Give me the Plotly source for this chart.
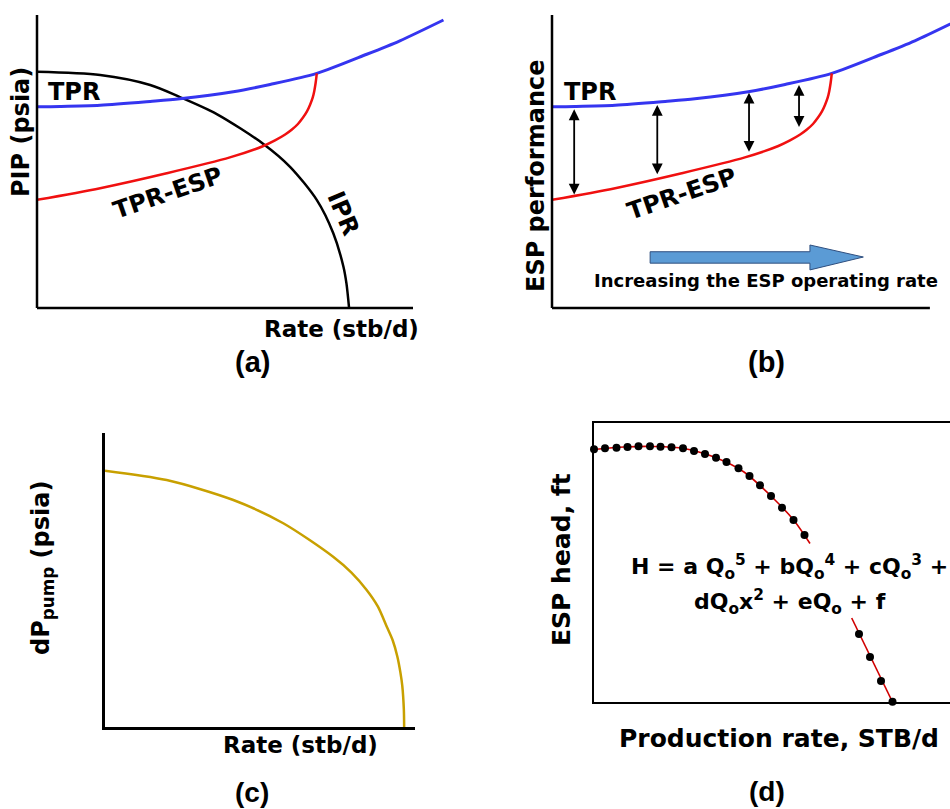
import plotly.graph_objects as go

# ---------------- data (schematic units) ----------------
# Panels (a) and (b): rate (0-100 along the drawn axis) vs pressure (0-100)
tpr_rate = [0, 6.1, 16.8, 30.1, 38, 52.2, 62, 74.4, 87.7, 96.5, 108.1]
tpr_pip = [68.7, 68.8, 69.2, 70.5, 71.4, 73.8, 76.3, 80.1, 86.6, 91.2, 98.3]
esp_rate = [0, 16.8, 34.5, 51.3, 60.2, 63.3, 66.0, 67.8, 69.4, 70.7, 71.8, 72.6,
            73.3, 73.75, 74.1, 74.3, 74.4]
esp_pip = [36.9, 40.9, 46.0, 51.4, 55.3, 57.2, 59.2, 60.9, 62.8, 64.9, 67.1, 69.3,
           71.7, 74.1, 76.8, 78.8, 80.1]
ipr_rate = [0, 16.8, 30.1, 38, 47.8, 60.2, 67.3, 74.4, 78.8, 81.5, 82.3, 83]
ipr_pip = [80.6, 79.5, 76.1, 72.0, 66.2, 56.0, 48.2, 36.9, 25.5, 14.1, 8.4, 0]
arrow_rate = [5.9, 28.0, 52.4, 65.7]
arrow_top = [67.8, 69.3, 73.5, 76.1]
arrow_bottom = [38.2, 45.1, 52.8, 61.3]

# Panel (c): pump differential pressure curve
pump_rate = [0, 19.9, 41.4, 57.5, 73.6, 79.5, 84.4, 88.0, 90.9, 92.8, 94.3, 95.3, 95.9, 96.4, 96.5]
pump_dp = [87.2, 84.0, 77.2, 69.3, 57.9, 52.5, 46.6, 41.0, 34.1, 29.5, 24.0, 18.5, 14.0, 6.0, 0]

# Panel (d): ESP head test points and polynomial fit
q_pts = [0, 110, 225, 335, 445, 560, 665, 775, 890, 1000, 1110, 1220, 1325,
         1445, 1555, 1660, 1770, 1880, 1995, 2105, 2650, 2760, 2870, 2985]
h_pts = [2527, 2537, 2543, 2550, 2557, 2557, 2553, 2547, 2537, 2510, 2480,
         2443, 2400, 2337, 2260, 2167, 2060, 1943, 1820, 1670, 680, 450, 210, 3]
fit1_q = [0, 300, 600, 900, 1200, 1500, 1800, 2000, 2160]
fit1_h = [2525, 2550, 2555, 2535, 2450, 2300, 2030, 1815, 1585]
fit2_q = [2577, 2985]
fit2_h = [840, 0]

# ---------------- figure ----------------
W, H = 950, 809
FONT = "DejaVu Sans"
BLUE = "#3535F0"
RED = "#F01010"
GOLD = "#C8A000"


def px(x):
    return x / W


def py(y):
    return 1 - y / H


fig = go.Figure()

# (a)
fig.add_trace(go.Scatter(x=ipr_rate, y=ipr_pip, mode="lines", xaxis="x", yaxis="y",
                         line=dict(color="black", width=2.5, shape="spline", smoothing=0.8)))
fig.add_trace(go.Scatter(x=tpr_rate, y=tpr_pip, mode="lines", xaxis="x", yaxis="y",
                         line=dict(color=BLUE, width=3, shape="spline", smoothing=0.8)))
fig.add_trace(go.Scatter(x=esp_rate, y=esp_pip, mode="lines", xaxis="x", yaxis="y",
                         line=dict(color=RED, width=2.5, shape="spline", smoothing=0.8)))
# (b)
fig.add_trace(go.Scatter(x=tpr_rate, y=tpr_pip, mode="lines", xaxis="x2", yaxis="y2",
                         line=dict(color=BLUE, width=3, shape="spline", smoothing=0.8)))
fig.add_trace(go.Scatter(x=esp_rate, y=esp_pip, mode="lines", xaxis="x2", yaxis="y2",
                         line=dict(color=RED, width=2.5, shape="spline", smoothing=0.8)))
# (c)
fig.add_trace(go.Scatter(x=pump_rate, y=pump_dp, mode="lines", xaxis="x3", yaxis="y3",
                         line=dict(color=GOLD, width=2.5, shape="spline", smoothing=0.8)))
# (d)
fig.add_trace(go.Scatter(x=fit1_q, y=fit1_h, mode="lines", xaxis="x4", yaxis="y4",
                         line=dict(color="#D00000", width=1.6, shape="spline", smoothing=0.8)))
fig.add_trace(go.Scatter(x=fit2_q, y=fit2_h, mode="lines", xaxis="x4", yaxis="y4",
                         line=dict(color="#D00000", width=1.6)))
fig.add_trace(go.Scatter(x=q_pts, y=h_pts, mode="markers", xaxis="x4", yaxis="y4",
                         cliponaxis=False,
                         marker=dict(color="black", size=8)))

blank = dict(showgrid=False, zeroline=False, showticklabels=False, ticks="",
             showline=False, fixedrange=True)
lined = {**blank, "showline": True, "linecolor": "black"}

fig.update_layout(
    width=W, height=H, margin=dict(l=0, r=0, t=0, b=0),
    paper_bgcolor="white", plot_bgcolor="rgba(0,0,0,0)", showlegend=False,
    xaxis=dict(domain=[px(37), px(450.6)], range=[0, 110], anchor="y", **blank),
    yaxis=dict(domain=[py(308), py(15)], range=[0, 100], anchor="x", **blank),
    xaxis2=dict(domain=[px(552), 1.0], range=[0, 105.85], anchor="y2", **blank),
    yaxis2=dict(domain=[py(308), py(15)], range=[0, 100], anchor="x2", **blank),
    xaxis3=dict(domain=[px(105), px(415)], range=[0, 100], anchor="y3",
                linewidth=2.5, **lined),
    yaxis3=dict(domain=[py(727), py(433)], range=[0, 100], anchor="x3",
                linewidth=2.5, **lined),
    xaxis4=dict(domain=[px(594), 1.0], range=[0, 3560], anchor="y4",
                linewidth=2, mirror=True, **lined),
    yaxis4=dict(domain=[py(702), py(423)], range=[0, 2790], anchor="x4",
                linewidth=2, **lined),
)

shapes = []
# axis lines for (a) and (b)
for xr, yr, xend in (("x", "y", 100 / 110), ("x2", "y2", 100.5 / 105.85)):
    shapes.append(dict(type="line", xref=xr + " domain", yref=yr + " domain",
                       x0=0, x1=0, y0=0, y1=1, line=dict(color="black", width=2.5)))
    shapes.append(dict(type="line", xref=xr + " domain", yref=yr + " domain",
                       x0=0, x1=xend, y0=0, y1=0, line=dict(color="black", width=2.5)))
# big blue arrow in (b)
shapes.append(dict(type="path", xref="x2", yref="y2",
                   path="M 26.1,19.2 L 68.6,19.2 L 68.6,21.5 L 82.8,17.4 L 68.6,13.0 "
                        "L 68.6,15.3 L 26.1,15.3 Z",
                   fillcolor="#5B9BD5", line=dict(color="#2F4F7F", width=1)))
fig.update_layout(shapes=shapes)

ann = []


def txt(text, x, y, size, angle=0, family=FONT, weight="bold"):
    ann.append(dict(text=text, x=px(x), y=py(y), xref="paper", yref="paper",
                    xanchor="center", yanchor="middle", showarrow=False,
                    textangle=angle,
                    font=dict(family=family, size=size, color="black", weight=weight)))


# (a)
txt("PIP (psia)", 21, 132, 24, -90)
txt("Rate (stb/d)", 341, 329, 23)
txt("(a)", 252, 362, 29, family="Liberation Sans")
txt("TPR", 74, 92, 24)
txt("TPR-ESP", 168, 193, 24, -19)
txt("IPR", 343, 213, 24, 67)
# (b)
txt("ESP performance", 536, 176, 24, -90)
txt("TPR", 590, 92, 24)
txt("TPR-ESP", 682, 194, 24, -19)
txt("Increasing the ESP operating rate", 766, 281, 18)
txt("(b)", 766, 362, 29, family="Liberation Sans")
# (c)
txt("dP<sub>pump</sub> (psia)", 42, 568, 24, -90)
txt("Rate (stb/d)", 300, 745, 23)
txt("(c)", 252, 792, 28, family="Liberation Sans")
# (d)
txt("ESP head, ft", 561, 560, 25, -90)
txt("Production rate, STB/d", 779, 738, 25)
txt("H = a Q<sub>o</sub><sup>5</sup> + bQ<sub>o</sub><sup>4</sup> + cQ<sub>o</sub><sup>3</sup> +",
    789, 567, 22)
txt("dQ<sub>o</sub>x<sup>2</sup> + eQ<sub>o</sub> + f", 790, 602, 22)
txt("(d)", 767, 791, 28, family="Liberation Sans")

# double-headed arrows in (b)
for xa, yt, yb in zip(arrow_rate, arrow_top, arrow_bottom):
    ann.append(dict(text="", x=xa, y=yt, ax=xa, ay=yb, xref="x2", yref="y2",
                    axref="x2", ayref="y2", showarrow=True, arrowhead=2,
                    startarrowhead=2, arrowside="end+start", arrowsize=1.2,
                    startarrowsize=1.2, arrowwidth=1.8, arrowcolor="black",
                    standoff=0, startstandoff=0))

fig.update_layout(annotations=ann)
fig.write_html("out.html")
